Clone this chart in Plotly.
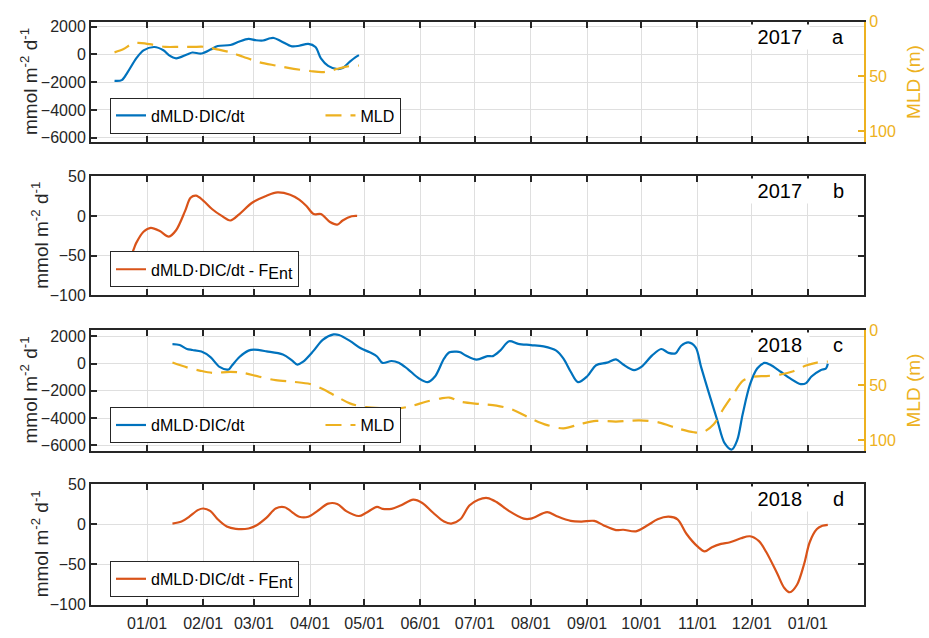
import pandas as pd
import plotly.graph_objects as go

# ---------------- data (days relative to 1 Jan of the plotted year) ----------------
a_day = [-18, -14, -11, -6, -2, 4, 9, 12, 16, 22, 25, 30, 35, 39, 46, 51, 56, 60, 64, 68,
         70, 74, 80, 84, 89, 93, 96, 100, 105, 108, 112, 115, 117]
a_flux = [-1900, -1850, -1330, -280, 300, 540, 300, -50, -280, 0, 140, 70, 350, 610, 680,
          940, 1120, 1030, 1010, 1170, 1190, 960, 590, 630, 770, 540, -280, -820, -1050,
          -980, -520, -210, -50]
a_mld_day = [-18, -13, -8, -3, 3, 10, 18, 25, 32, 38, 46, 53, 62, 71, 81, 90, 97, 103, 110, 117]
a_mld = [28, 25, 20, 19.5, 21, 23, 23, 23, 23, 25, 28, 32, 37, 40, 43, 45, 46, 44, 41, 40]

b_day = [-17, -9, -6, -2, 2, 7, 12, 16, 21, 24, 27, 31, 36, 41, 46, 51, 58, 66, 72, 79,
         84, 88, 92, 96, 101, 105, 108, 113, 116]
b_val = [-70, -50, -34, -20, -15, -19, -26, -18, 6.5, 23, 25.6, 19.5, 8.5, 0.4, -5.7, 2.4,
         16.7, 25.6, 29.7, 26.8, 20.7, 12.6, 2.4, 2.4, -7.7, -11, -5.7, -0.4, 0]

c_day = [14, 18, 22, 25, 30, 35, 40, 45, 47, 51, 56, 59, 66, 75, 80, 83, 86, 92, 97, 103,
         106, 112, 118, 123, 127, 130, 135, 139, 144, 150, 155, 159, 164, 167, 171,
         173, 176, 182, 188, 191, 195, 200, 205, 212, 219, 226, 230, 234, 238, 243, 248,
         254, 259, 263, 269, 273, 279, 284, 288, 292, 295, 299, 303, 306, 310, 315, 319,
         323, 326, 329, 333, 337, 341, 344, 350, 355, 361, 364, 367, 372, 375, 376]
c_flux = [1430, 1360, 1070, 1000, 880, 480, -240, -430, -120, 480, 950, 1020, 900, 670, 240,
          -70, 120, 950, 1740, 2140, 2100, 1670, 1120, 830, 520, 50, 190, 70, -400, -1070,
          -1360, -950, 360, 830, 880,
          830, 600, 290, 550, 550, 950, 1640, 1450, 1360, 1260, 950, 360, -600, -1360, -950,
          -120, 70, 310, -70, -480, -240, 600, 1070, 790, 760, 1310, 1550, 1190, -240, -2020,
          -4170, -5830, -6300, -5600, -3690, -1550, -360, 50, -70, -600, -1070, -1500, -1430,
          -950, -480, -360, -10]
c_mld_day = [14, 22, 29, 36, 46, 53, 62, 71, 81, 90, 97, 105, 112, 121, 130, 140, 147, 154,
             162, 167, 173, 184, 193, 202, 211, 221, 230, 239, 248, 259, 272, 283, 293, 302,
             307, 313, 318, 324, 329, 335, 342, 350, 357, 364, 370, 376]
c_mld = [29.5, 33.9, 36.8, 38.9, 38, 38.9, 42.4, 45.6, 47.1, 49.1, 53.5, 60.8, 66.7, 70.2, 71,
         71, 68.7, 65.2, 62.3, 61.4, 65.2, 67.3, 68.7, 72.5, 79.8, 86.5, 89.5, 85.7, 82.7,
         83.3, 82.2, 84.2, 89.5, 93, 93, 85.7, 72.5, 57.9, 46.2, 42.4, 41.8, 40.4, 37.4, 32.2,
         29.5, 28.7]

d_day = [14, 19, 23, 28, 31, 35, 39, 44, 49, 56, 60, 66, 71, 76, 81, 84, 89, 94, 100, 105,
         110, 117, 121, 127, 130, 135, 140, 147, 152, 158, 164, 168,
         173, 178, 183, 188, 193, 200, 208, 212, 221, 226, 234, 240, 247, 252, 259, 263, 270,
         276, 282, 288, 293, 298, 304, 308, 312, 317, 322, 328, 333, 338, 342, 348, 352, 355,
         359, 363, 366, 370, 373, 376]
d_val = [0.8, 3.3, 8.9, 17.5, 19.5, 16.3, 6.1, -2.8, -5.7, -5.3, -2, 8.1, 19.5, 21.1, 13.4,
         9.3, 9.3, 16.3, 25.6, 25.2, 16.3, 10.2, 14.2, 21.5, 19.1, 19.1, 23.2, 30.5, 26.4,
         14.2, 3.3, 0.8,
         6.1, 23.2, 30.5, 32.5, 27.6, 16.3, 6.9, 6.9, 15, 10.2, 4.1, 3.3, 4.1, -1.2, -7.3,
         -6.9, -8.9, -2, 6.1, 9.3, 6.1, -12.2, -27.6, -33.7, -28.5, -24.4, -22.4, -17.5, -15,
         -21.1, -34.6, -61, -79.3, -84.6, -75.2, -48.8, -22.4, -6.1, -2, -0.8]

month_ticks = pd.date_range("2018-01-01", "2019-01-01", freq="MS")
x_range = ["2017-12-01", "2019-02-01"]
flux_ticks = [-6000, -4000, -2000, 0, 2000]
rate_ticks = [-100, -50, 0, 50]
mld_ticks = [0, 50, 100]
panel_years = ["2017", "2017", "2018", "2018"]
panel_letters = ["a", "b", "c", "d"]
flux_name = "dMLD·DIC/dt" + "\u00a0" * 16
mld_name = "MLD"
net_name = "dMLD·DIC/dt - F<sub><span style='font-size:16px'>Ent</span></sub>"
y_title = "mmol m<sup>-2</sup> d<sup>-1</sup>"

BASE = pd.Timestamp("2018-01-01")


def to_dates(days):
    return BASE + pd.to_timedelta(days, unit="D")


BLUE = "#0072BD"
RED = "#D95319"
YEL = "#EDB120"
AX = "#262626"
GRID = "#dfdfdf"
FONT = "Liberation Sans, Arial, sans-serif"

W, H = 929, 638
X0, X1 = 91, 864
panels_px = [(14, 138), (173, 295), (331, 455), (489, 613)]
doms = [[1 - b / H, 1 - t / H] for t, b in panels_px]
title_x = [29, 40, 29, 40]

fig = go.Figure()
LW = 2.2


def line(x, y, color, name, xa, ya, leg, dash=None):
    fig.add_trace(go.Scatter(
        x=to_dates(x), y=y, mode="lines", name=name, xaxis=xa, yaxis=ya, legend=leg,
        line=dict(color=color, width=LW, shape="spline", smoothing=0.9, dash=dash)))


DASH = "16px,9px"
line(a_day, a_flux, BLUE, flux_name, "x", "y", "legend")
line(a_mld_day, a_mld, YEL, mld_name, "x", "y5", "legend", dash=DASH)
line(b_day, b_val, RED, net_name, "x2", "y2", "legend2")
line(c_day, c_flux, BLUE, flux_name, "x3", "y3", "legend3")
line(c_mld_day, c_mld, YEL, mld_name, "x3", "y6", "legend3", dash=DASH)
line(d_day, d_val, RED, net_name, "x4", "y4", "legend4")

xdom = [X0 / W, X1 / W]
tick_font = dict(family=FONT, size=16, color=AX)

layout = dict(width=W, height=H, margin=dict(l=0, r=0, t=0, b=0),
              paper_bgcolor="white", plot_bgcolor="white", font=dict(family=FONT, color=AX))

for i in range(4):
    k = "" if i == 0 else str(i + 1)
    ya = "y" + k
    layout["xaxis" + k] = dict(
        domain=xdom, anchor=ya, range=x_range, type="date", tickvals=month_ticks,
        tickformat="%m/%d", showticklabels=(i == 3), ticks="inside", ticklen=6,
        tickwidth=2, tickcolor=AX, showline=True, linecolor=AX, linewidth=2,
        mirror="ticks", showgrid=True, gridcolor=GRID, gridwidth=1, zeroline=False,
        tickfont=tick_font, ticklabelstandoff=3, matches=None if i == 0 else "x")
    if i in (0, 2):
        rng = [-6340, 2370] if i == 0 else [-6400, 2450]
        tv = flux_ticks
        mir = False
    else:
        rng = [-100, 50]
        tv = rate_ticks
        mir = "ticks"
    layout["yaxis" + k] = dict(
        domain=doms[i], anchor="x" + k, range=rng, tickvals=tv, ticks="inside", ticklen=6,
        tickwidth=2, tickcolor=AX, showline=True, linecolor=AX, linewidth=2, mirror=mir,
        showgrid=True, gridcolor=GRID, gridwidth=1, zeroline=False, tickfont=tick_font,
        fixedrange=True)

for idx, base in ((5, ""), (6, "3")):
    layout["yaxis%d" % idx] = dict(
        overlaying="y" + base, side="right", anchor="x" + base, range=[110, 0],
        tickvals=mld_ticks, ticks="inside", ticklen=6, tickwidth=2, tickcolor=YEL,
        showline=True, linecolor=YEL, linewidth=2, showgrid=False, zeroline=False,
        tickfont=dict(family=FONT, size=16, color=YEL),
        title=dict(text="MLD (m)", font=dict(family=FONT, size=19, color=YEL), standoff=12))

leg_common = dict(xanchor="left", yanchor="bottom", orientation="h", bgcolor="white",
                  bordercolor=AX, borderwidth=1, font=dict(family=FONT, size=16, color="black"),
                  tracegroupgap=0)
leg_bottoms = [129, 287, 447, 605]
for i, lb in enumerate(leg_bottoms):
    key = "legend" if i == 0 else "legend%d" % (i + 1)
    layout[key] = dict(leg_common, x=110 / W, y=1 - lb / H)

anns = []
for i in range(4):
    k = "" if i == 0 else str(i + 1)
    anns.append(dict(text=" " + panel_years[i] + " ", xref="x%s domain" % k, yref="y%s domain" % k,
                     x=(780 - X0) / (X1 - X0), y=1, xanchor="center", yanchor="top", yshift=-2,
                     showarrow=False, bgcolor="white", borderpad=1,
                     font=dict(family=FONT, size=20, color="black")))
    anns.append(dict(text=panel_letters[i], xref="x%s domain" % k, yref="y%s domain" % k,
                     x=(838 - X0) / (X1 - X0), y=1, xanchor="center", yanchor="top", yshift=-2,
                     showarrow=False, font=dict(family=FONT, size=20, color="black")))
    anns.append(dict(text=y_title, xref="paper", yref="y%s domain" % k, x=title_x[i] / W, y=0.5,
                     xanchor="center", yanchor="middle", textangle=-90, showarrow=False,
                     font=dict(family=FONT, size=19, color=AX)))
layout["annotations"] = anns

fig.update_layout(**layout)
fig.write_html("out.html")
